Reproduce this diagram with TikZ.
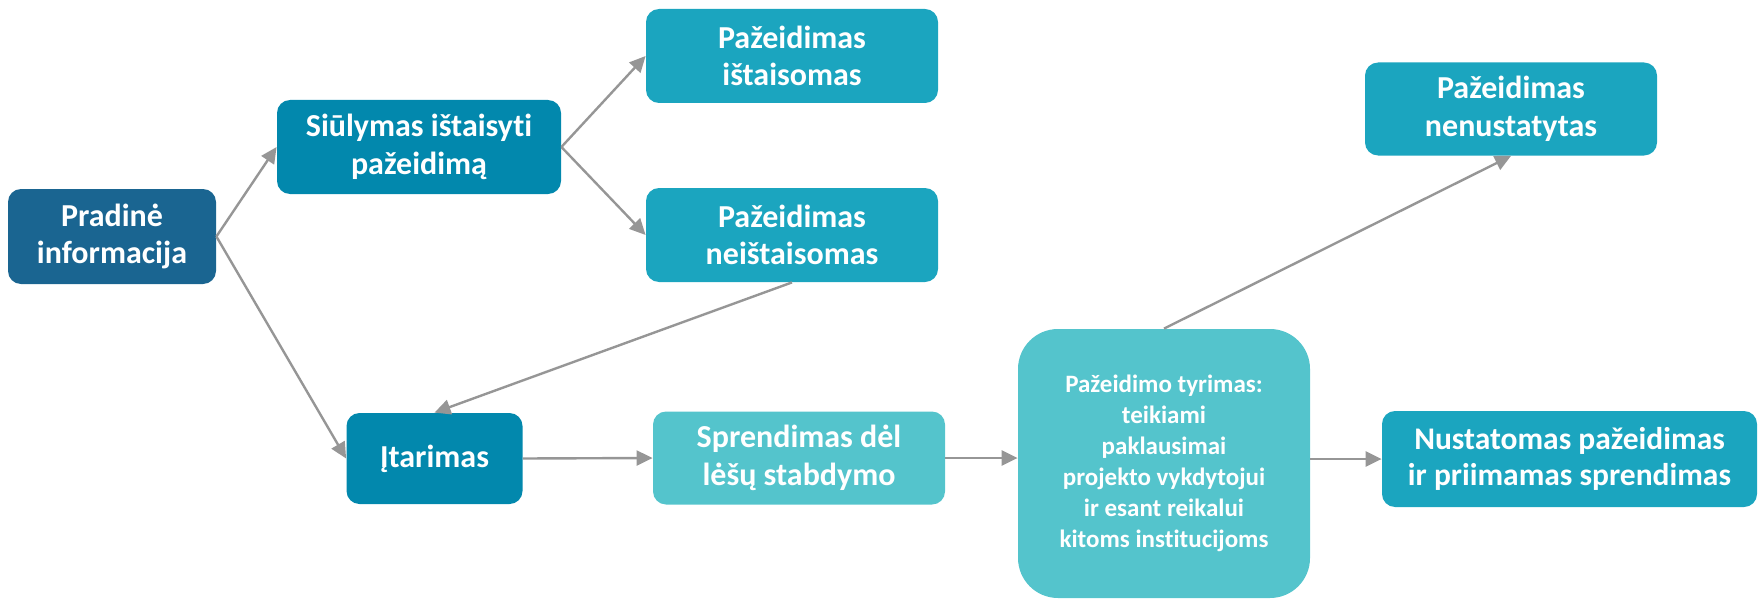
\documentclass[tikz,border=0pt]{standalone}
\usepackage{fontspec}
\setmainfont{Carlito}[Ligatures=NoCommon]
\usetikzlibrary{arrows.meta}
\definecolor{tamsi}{HTML}{1A6591}
\definecolor{vidut}{HTML}{0288AD}
\definecolor{zydra}{HTML}{1BA5BF}
\definecolor{sviesi}{HTML}{54C4CC}
\definecolor{rodykle}{HTML}{969696}
\begin{document}
\begin{tikzpicture}[x=0.5pt,y=-0.5pt,
    box/.style={rounded corners=6.5pt,text=white,align=center,inner sep=0pt,
      font=\bfseries\fontsize{16}{18.8}\selectfont,
      minimum width=146pt,minimum height=47pt}]
      \useasboundingbox (0,0) rectangle (1759,599);
      \draw
        (112,236.5) node[box,fill=tamsi,minimum width=104pt,minimum height=47.5pt] (prad){Pradinė\\informacija}
        (419,147) node[box,fill=vidut,minimum width=142pt] (siul){Siūlymas ištaisyti\\pažeidimą}
        (792,56) node[box,fill=zydra] (ist){Pažeidimas\\ištaisomas}
        (792,235) node[box,fill=zydra] (neist){Pažeidimas\\neištaisomas}
        (434.5,458.5) node[box,fill=vidut,minimum width=88pt,minimum height=45.5pt] (itar){Įtarimas}
        (799,458) node[box,fill=sviesi,minimum height=46.5pt] (spr){Sprendimas dėl\\lėšų stabdymo}
        (1164,463.5) node[box,fill=sviesi,minimum height=134.5pt,rounded corners=20pt,
          font=\bfseries\fontsize{12.5}{15.5}\selectfont] (tyr){Pažeidimo tyrimas:\\teikiami\\paklausimai\\projekto vykdytojui\\ir esant reikalui\\kitoms institucijoms}
        (1569.5,459) node[box,fill=zydra,minimum width=187.5pt,minimum height=48pt,
          font=\bfseries\fontsize{15.75}{17.8}\selectfont] (nust){Nustatomas pažeidimas\\ir priimamas sprendimas}
        (1511,109) node[box,fill=zydra,minimum height=46.5pt] (nenust){Pažeidimas\\nenustatytas};
      \begin{scope}[rodykle,line width=1.2pt,-{Triangle[length=8pt,width=7.5pt]}]
        \draw (prad.east) to (siul.west);
        \draw (prad.east) to (itar.west);
        \draw (siul.east) to (ist.west);
        \draw (siul.east) to (neist.west);
        \draw (neist.south) to (itar.north);
        \draw (itar.east) to (spr.west);
        \draw (spr.east) to (spr.east -| tyr.west);
        \draw (tyr.east |- nust.west) to (nust.west);
        \draw (tyr.north) to (nenust.south);
      \end{scope}
    \end{tikzpicture}
\end{document}
